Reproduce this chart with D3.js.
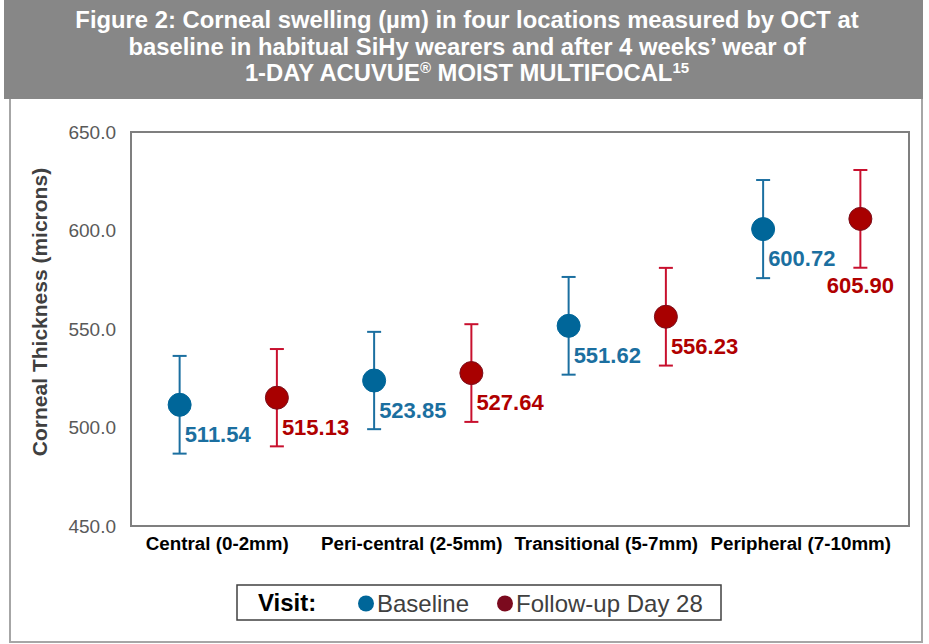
<!DOCTYPE html>
<html>
<head>
<meta charset="utf-8">
<script src="https://cdn.jsdelivr.net/npm/d3@7"></script>
<style>
  body { margin: 0; background: #fff; }
  svg { display: block; font-family: Arial, "Liberation Sans", sans-serif; }
</style>
</head>
<body>
<div id="chart"></div>
<script>
// data
const categories = ["Central (0-2mm)", "Peri-central (2-5mm)", "Transitional (5-7mm)", "Peripheral (7-10mm)"];
const baseline = [511.54, 523.85, 551.62, 600.72];
const followUp = [515.13, 527.64, 556.23, 605.90];
const baselineErr = [24.8, 24.7, 24.8, 24.9];
const followUpErr = [24.7, 24.8, 24.8, 24.8];
const yTicks = [450, 500, 550, 600, 650];
const seriesNames = ["Baseline", "Follow-up Day 28"];

const width = 929, height = 644;
const margin = { top: 132, right: 20, bottom: 118, left: 131 };

const svg = d3.select("#chart").append("svg")
  .attr("width", width)
  .attr("height", height);

// title band + frame
svg.append("rect")
  .attr("x", 4).attr("y", 0)
  .attr("width", 919).attr("height", 99)
  .attr("fill", "#878787");

svg.append("path")
  .attr("d", "M10,99 V642 H922 V99")
  .attr("fill", "none")
  .attr("stroke", "#a6a6a6")
  .attr("stroke-width", 2);

const titleLines = [
  "Figure 2: Corneal swelling (\u00b5m) in four locations measured by OCT at",
  "baseline in habitual SiHy wearers and after 4 weeks\u2019 wear of"
];
const title = svg.append("g")
  .attr("fill", "#fff")
  .attr("font-weight", "bold")
  .attr("font-size", 23.8)
  .attr("text-anchor", "middle");
titleLines.forEach((t, i) => {
  title.append("text").attr("x", 467).attr("y", 28 + i * 26.5).text(t);
});
const t3 = title.append("text").attr("x", 467).attr("y", 81);
t3.append("tspan").text("1-DAY ACUVUE");
t3.append("tspan").attr("font-size", 15).attr("dy", -8).text("\u00ae");
t3.append("tspan").attr("dy", 8).text(" MOIST MULTIFOCAL");
t3.append("tspan").attr("font-size", 15).attr("dy", -8).text("15");

// scales
const x = d3.scaleBand()
  .domain(categories)
  .range([margin.left, width - margin.right])
  .padding(0);

const y = d3.scaleLinear()
  .domain([450, 650])
  .range([height - margin.bottom, margin.top]);

const plotW = width - margin.right - margin.left;
const plotH = height - margin.bottom - margin.top;

// y axis labels
const yAxis = d3.axisLeft(y)
  .tickValues(yTicks)
  .tickFormat(d3.format(".1f"))
  .tickSize(0)
  .tickPadding(15);

svg.append("g")
  .attr("transform", `translate(${margin.left},0)`)
  .call(yAxis)
  .call(g => g.select(".domain").remove())
  .call(g => g.selectAll("text")
    .attr("font-size", 19)
    .attr("fill", "#595959")
    .attr("font-family", "Arial, 'Liberation Sans', sans-serif"));

// x axis labels
const xAxis = d3.axisBottom(x).tickSize(0).tickPadding(11);
svg.append("g")
  .attr("transform", `translate(0,${height - margin.bottom})`)
  .call(xAxis)
  .call(g => g.select(".domain").remove())
  .call(g => g.selectAll("text")
    .attr("font-size", 18.8)
    .attr("font-weight", "bold")
    .attr("fill", "#000")
    .attr("dx", -11)
    .attr("font-family", "Arial, 'Liberation Sans', sans-serif"));

// plot border
svg.append("rect")
  .attr("x", margin.left).attr("y", margin.top)
  .attr("width", plotW).attr("height", plotH)
  .attr("fill", "none")
  .attr("stroke", "#7f7f7f")
  .attr("stroke-width", 2);

// y axis title
svg.append("text")
  .attr("transform", `translate(47,${(margin.top + height - margin.bottom) / 2 - 17}) rotate(-90)`)
  .attr("text-anchor", "middle")
  .attr("font-size", 21)
  .attr("font-weight", "bold")
  .attr("fill", "#404040")
  .text("Corneal Thickness (microns)");

// series
const series = [
  { name: seriesNames[0], values: baseline, err: baselineErr, offset: -0.25,
    fill: "#006699", stroke: "#006699", bar: "#1b6fa0", label: "#1b6fa0" },
  { name: seriesNames[1], values: followUp, err: followUpErr, offset: 0.25,
    fill: "#a80000", stroke: "#7b0f1c", bar: "#c8102e", label: "#b00000" }
];

const cap = 7;
series.forEach((s, si) => {
  const g = svg.append("g");
  const pts = categories.map((c, i) => ({
    cx: x(c) + x.bandwidth() * (0.5 + s.offset),
    v: s.values[i], e: s.err[i], i
  }));

  g.selectAll("line.bar").data(pts).enter().append("line")
    .attr("x1", d => d.cx).attr("x2", d => d.cx)
    .attr("y1", d => y(d.v + d.e)).attr("y2", d => y(d.v - d.e))
    .attr("stroke", s.bar).attr("stroke-width", 2);

  [1, -1].forEach(sign => {
    g.selectAll(null).data(pts).enter().append("line")
      .attr("x1", d => d.cx - cap).attr("x2", d => d.cx + cap)
      .attr("y1", d => y(d.v + sign * d.e)).attr("y2", d => y(d.v + sign * d.e))
      .attr("stroke", s.bar).attr("stroke-width", 2);
  });

  g.selectAll("circle").data(pts).enter().append("circle")
    .attr("cx", d => d.cx).attr("cy", d => y(d.v))
    .attr("r", 11.5)
    .attr("fill", s.fill)
    .attr("stroke", s.stroke)
    .attr("stroke-width", 1);

  // last follow-up label sits under its error bar, the rest to the lower right
  const below = d => si === 1 && d.i === 3;
  g.selectAll("text").data(pts).enter().append("text")
    .attr("x", d => below(d) ? d.cx : d.cx + 5)
    .attr("y", d => below(d) ? y(d.v - d.e) + 25 : y(d.v) + 37)
    .attr("text-anchor", d => below(d) ? "middle" : "start")
    .attr("font-size", 22)
    .attr("font-weight", "bold")
    .attr("fill", s.label)
    .text(d => d3.format(".2f")(d.v));
});

// legend
const legend = svg.append("g");
legend.append("rect")
  .attr("x", 237).attr("y", 585)
  .attr("width", 484).attr("height", 35)
  .attr("fill", "#fff")
  .attr("stroke", "#404040")
  .attr("stroke-width", 1.5);
legend.append("text")
  .attr("x", 258).attr("y", 611)
  .attr("font-size", 24).attr("font-weight", "bold")
  .attr("fill", "#000")
  .text("Visit:");
const legendX = [366, 505];
const legendFill = ["#006699", "#7b0a1e"];
seriesNames.forEach((n, i) => {
  legend.append("circle")
    .attr("cx", legendX[i]).attr("cy", 603.5).attr("r", 8)
    .attr("fill", legendFill[i]);
  legend.append("text")
    .attr("x", legendX[i] + 11).attr("y", 611.5)
    .attr("font-size", 24)
    .attr("fill", "#404040")
    .text(n);
});
</script>
</body>
</html>
